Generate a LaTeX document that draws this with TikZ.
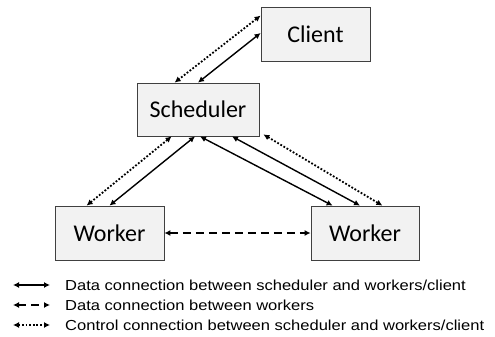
\documentclass[tikz,border=0pt]{standalone}
\usepackage{fontspec}
\usetikzlibrary{arrows.meta}
\newfontfamily\boxfont{Carlito}
\newfontfamily\legfont[FakeStretch=1.14]{Liberation Sans}
\definecolor{boxfill}{HTML}{F2F2F2}
\definecolor{boxline}{HTML}{404040}
\tikzset{
    unit/.style={draw=boxline, fill=boxfill, line width=0.8pt, minimum height=54pt, inner sep=0pt, font=\boxfont\fontsize{24}{28}\selectfont},
    datalink/.style={{Latex[length=6pt,width=6pt]}-{Latex[length=6pt,width=6pt]}, line width=1.4pt},
    peerlink/.style={datalink, dash pattern=on 8pt off 5pt},
    ctrllink/.style={datalink, line width=1.8pt, dash pattern=on 1.8pt off 1.8pt},
    legtext/.style={anchor=west, inner sep=0pt, font=\legfont\fontsize{14.5}{16}\selectfont}
}
\begin{document}
\begin{tikzpicture}[x=1pt, y=-1pt]
                \useasboundingbox (0,0) rectangle (495,337);
                % boxes
                \node[unit, minimum width=109pt] (client) at (315.5,34) {Client};
                \node[unit, minimum width=122pt, minimum height=53pt] (sched) at (198,109.5) {Scheduler};
                \node[unit, minimum width=109pt] (wleft) at (109.5,233) {Worker};
                \node[unit, minimum width=108pt] (wright) at (365,233) {Worker};
                % client <-> scheduler
                \draw[ctrllink] ([yshift=-9pt]client.north west) -- ([xshift=38pt]sched.north west);
                \draw[datalink] ([yshift=1pt]client.west) -- (sched.north);
                % scheduler <-> left worker
                \draw[ctrllink] ([xshift=35pt]sched.south west) -- ([xshift=32pt]wleft.north west);
                \draw[datalink] ([xshift=-3pt]sched.south) -- (wleft.north);
                % scheduler <-> right worker
                \draw[datalink] ([xshift=2pt]sched.south) -- ([xshift=22pt]wright.north west);
                \draw[datalink] ([xshift=34pt]sched.south) -- ([xshift=-5pt]wright.north);
                \draw[ctrllink] ([xshift=4pt, yshift=2pt]sched.south east) -- ([xshift=-37pt]wright.north east);
                % worker <-> worker
                \draw[peerlink] (wleft.east) -- (wright.west);
                % legend
                \foreach \n/\y/\st/\txt in {1/285/datalink/{Data connection between scheduler and workers/client},
                                            2/305/peerlink/{Data connection between workers},
                                            3/325/ctrllink/{Control connection between scheduler and workers/client}} {
                    \coordinate (leg\n a) at (13,\y);
                    \node[legtext] (leg\n) at (65,\y) {\txt};
                    \draw[\st, line width=1.2pt] (leg\n a) -- ([xshift=-15pt]leg\n.west);
                }
            \end{tikzpicture}
\end{document}
